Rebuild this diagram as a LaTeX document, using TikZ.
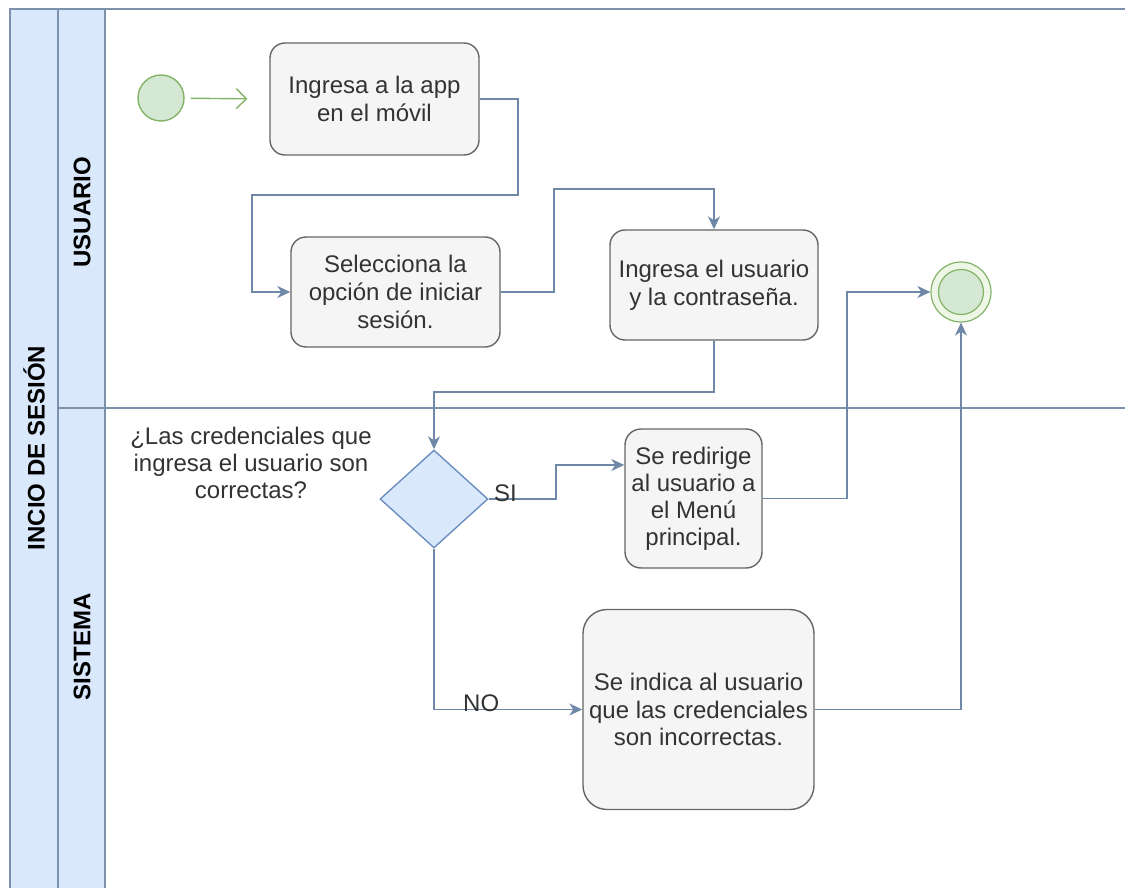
\documentclass[tikz,border=0pt]{standalone}
\usepackage{fontspec}
\setmainfont{Liberation Sans}
\usetikzlibrary{arrows.meta,shapes.geometric}
\definecolor{laneFill}{HTML}{DAE8FC}
\definecolor{laneLine}{HTML}{7C91AB}
\definecolor{flowLine}{HTML}{7088A8}
\definecolor{boxFill}{HTML}{F5F5F5}
\definecolor{boxLine}{HTML}{666666}
\definecolor{txt}{HTML}{333333}
\definecolor{greenFill}{HTML}{D5E8D4}
\definecolor{greenPale}{HTML}{EEF6E8}
\definecolor{greenLine}{HTML}{82B366}
\definecolor{diaFill}{HTML}{DAE8FC}
\definecolor{diaLine}{HTML}{6C8EBF}
\begin{document}
\begin{tikzpicture}[x=1pt,y=-1pt,
  font={\fontsize{24}{28}\selectfont},
  lanelabel/.style={font={\fontsize{24}{28}\selectfont\bfseries}, text=black, inner sep=0pt},
  activity/.style={draw=boxLine, fill=boxFill, line width=1.4pt, text=txt,
    align=center, inner sep=0pt, rounded corners=15pt},
  decision/.style={diamond, draw=diaLine, fill=diaFill, line width=1.4pt, inner sep=0pt},
  startstate/.style={circle, draw=greenLine, fill=greenFill, line width=1.4pt,
    minimum size=46pt, inner sep=0pt},
  flow/.style={draw=flowLine, line width=1.6pt,
    -{Stealth[length=13pt,width=12pt,inset=4pt]}},
  flowlabel/.style={text=txt, inner sep=0pt},
  note/.style={text=txt, align=center, inner sep=0pt}]
\useasboundingbox (0,0) rectangle (1125,888);

% pool and lane headers (the pool runs on past the lower and right edges)
\fill[laneFill] (10,9) rectangle (105,888);
\draw[laneLine, line width=1.5pt] (1125,9) -- (10,9) -- (10,888);
\draw[laneLine, line width=1.5pt] (58,9) -- (58,888);
\draw[laneLine, line width=1.5pt] (105,9) -- (105,888);
\draw[laneLine, line width=1.5pt] (58,408) -- (1125,408);

\node[lanelabel, rotate=90] (pool) at (34,448) {INCIO DE SESIÓN};
\node[lanelabel, rotate=90] (laneU) at (82,212) {USUARIO};
\node[lanelabel, rotate=90] (laneS) at (82,647) {SISTEMA};

% states and activities
\node[startstate] (start) at (161,98) {};
\node[activity, minimum width=209pt, minimum height=112pt] (b1) at (374.5,99)
  {Ingresa a la app\\en el móvil};
\node[activity, minimum width=209pt, minimum height=110pt] (b2) at (395.5,292)
  {Selecciona la\\opción de iniciar\\sesión.};
\node[activity, minimum width=208pt, minimum height=110pt] (b3) at (714,285)
  {Ingresa el usuario\\y la contraseña.};
\node[activity, minimum width=137pt, minimum height=139pt, rounded corners=16pt,
  font={\fontsize{24}{27}\selectfont}] (b4) at (693.5,498.5)
  {Se redirige\\al usuario a\\el Menú\\principal.};
\node[activity, minimum width=231pt, minimum height=200pt, rounded corners=24pt,
  font={\fontsize{24}{27.5}\selectfont}] (b5) at (698.5,709.5)
  {Se indica al usuario\\que las credenciales\\son incorrectas.};
\node[decision, minimum width=108pt, minimum height=98pt] (d) at (434,499) {};
\node[note, font={\fontsize{24}{27}\selectfont}] (q) at (251,463)
  {¿Las credenciales que\\ingresa el usuario son\\correctas?};

\node[circle, draw=greenLine, fill=greenPale, line width=1.2pt,
  minimum size=60pt, inner sep=0pt] (end) at (961,292) {};
\node[circle, draw=greenLine, fill=greenFill, line width=1.2pt,
  minimum size=45pt, inner sep=0pt] (endin) at (end) {};

% connectors
\draw[draw=greenLine, line width=1.4pt, shorten <=6pt, shorten >=22pt,
  -{Straight Barb[length=10pt,width=20pt]}] (start) -- (b1.west);
\draw[flow] (b1.east) -- (518,99) -- (518,195) -- (252,195) |- (b2.west);
\draw[flow] (b2.east) -- (554,292) |- (714,189) -- (b3.north);
\draw[flow] (b3.south) -- (714,392) -| (d.north);
\draw[flow] (d.east) -- (556,499) |- (b4.west |- 0,465);
\draw[flow] (b4.east) -- (847,498.5) |- (end.west);
\draw[flow] (d.south) |- (b5.west);
\draw[flow] (b5.east) -| (end.south);

\node[flowlabel, anchor=south west] (si) at (494,502) {SI};
\node[flowlabel, anchor=south west] (no) at (463,712) {NO};
\end{tikzpicture}
\end{document}
